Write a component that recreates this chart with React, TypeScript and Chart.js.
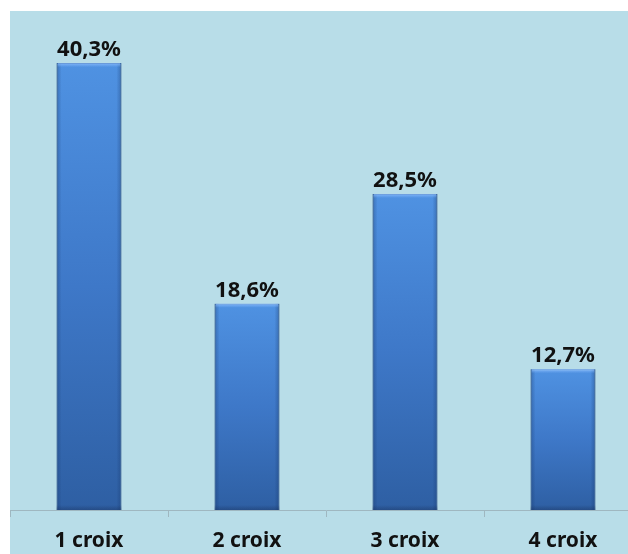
import React, { useEffect, useRef } from "react";
import { Chart, registerables } from "chart.js";

Chart.register(...registerables);

const categories = ["1 croix", "2 croix", "3 croix", "4 croix"];
const values = [40.3, 18.6, 28.5, 12.7];
const valueLabels = ["40,3%", "18,6%", "28,5%", "12,7%"];

const BG = "#b8dde8";
const FONT = "'Noto Sans', 'DejaVu Sans', sans-serif";

const bgPlugin = {
  id: "bgPlugin",
  beforeDraw(chart: any) {
    const c = chart.ctx;
    c.save();
    c.fillStyle = BG;
    c.fillRect(10, 11, chart.width - 10, chart.height - 11);
    c.restore();
  },
};

const barDecor = {
  id: "barDecor",
  afterDatasetsDraw(chart: any) {
    const c = chart.ctx;
    const meta = chart.getDatasetMeta(0);
    c.save();
    meta.data.forEach((bar: any, i: number) => {
      const half = bar.width / 2;
      const l = bar.x - half;
      const r = bar.x + half;
      const t = bar.y;
      const b = bar.base;
      let g = c.createLinearGradient(l, 0, l + 5, 0);
      g.addColorStop(0, "rgba(20,50,100,0.35)");
      g.addColorStop(1, "rgba(20,50,100,0)");
      c.fillStyle = g;
      c.fillRect(l, t, 5, b - t);
      g = c.createLinearGradient(r, 0, r - 5, 0);
      g.addColorStop(0, "rgba(20,50,100,0.35)");
      g.addColorStop(1, "rgba(20,50,100,0)");
      c.fillStyle = g;
      c.fillRect(r - 5, t, 5, b - t);
      g = c.createLinearGradient(0, t, 0, t + 4);
      g.addColorStop(0, "rgba(140,190,255,0.8)");
      g.addColorStop(1, "rgba(140,190,255,0)");
      c.fillStyle = g;
      c.fillRect(l + 1, t, bar.width - 2, 4);
      g = c.createLinearGradient(0, b - 5, 0, b);
      g.addColorStop(0, "rgba(20,40,80,0)");
      g.addColorStop(1, "rgba(20,40,80,0.35)");
      c.fillStyle = g;
      c.fillRect(l, b - 5, bar.width, 5);
      c.fillStyle = "#111111";
      c.font = `bold 22px ${FONT}`;
      c.textAlign = "center";
      c.textBaseline = "alphabetic";
      c.fillText(valueLabels[i], bar.x, t - 7);
    });
    c.restore();
  },
};

export default function App() {
  const ref = useRef<HTMLCanvasElement>(null);
  useEffect(() => {
    if (!ref.current) return;
    const chart = new Chart(ref.current, {
      type: "bar",
      data: {
        labels: categories,
        datasets: [
          {
            data: values,
            backgroundColor: (ctx: any) => {
              const chart = ctx.chart;
              const { chartArea, scales } = chart;
              if (!chartArea || ctx.type !== "data" || !scales.y) return "#3f7acb";
              const top = scales.y.getPixelForValue(ctx.raw);
              const bottom = scales.y.getPixelForValue(0);
              const g = chart.ctx.createLinearGradient(0, top, 0, bottom);
              g.addColorStop(0, "#4f92e2");
              g.addColorStop(0.5, "#3e78c8");
              g.addColorStop(1, "#2e5fa3");
              return g;
            },
            borderColor: "#2b5a9a",
            borderWidth: 1,
            barPercentage: 0.41,
            categoryPercentage: 1,
          },
        ],
      },
      options: {
        animation: false,
        responsive: false,
        devicePixelRatio: 1,
        layout: { padding: { left: 10, top: 11, right: 0, bottom: 0 } },
        plugins: { legend: { display: false }, tooltip: { enabled: false } },
        scales: {
          y: {
            display: false,
            min: 0,
            max: 45,
          },
          x: {
            grid: {
              display: true,
              offset: true,
              drawOnChartArea: false,
              tickLength: 7,
              color: "#9fb7c0",
            },
            border: { display: true, color: "#9fb7c0", width: 1 },
            ticks: {
              color: "#111111",
              font: { family: FONT, size: 21, weight: "bold" },
              padding: 11,
            },
            afterFit: (scale: any) => {
              scale.height = 44;
            },
          },
        },
      },
      plugins: [bgPlugin, barDecor],
    });
    return () => chart.destroy();
  }, []);
  return (
    <div
      style={{
        position: "absolute",
        left: 0,
        top: 0,
        width: 628,
        height: 554,
        overflow: "hidden",
        background: "#ffffff",
      }}
    >
      <canvas ref={ref} width={642} height={554} style={{ display: "block", width: 642, height: 554 }} />
    </div>
  );
}
